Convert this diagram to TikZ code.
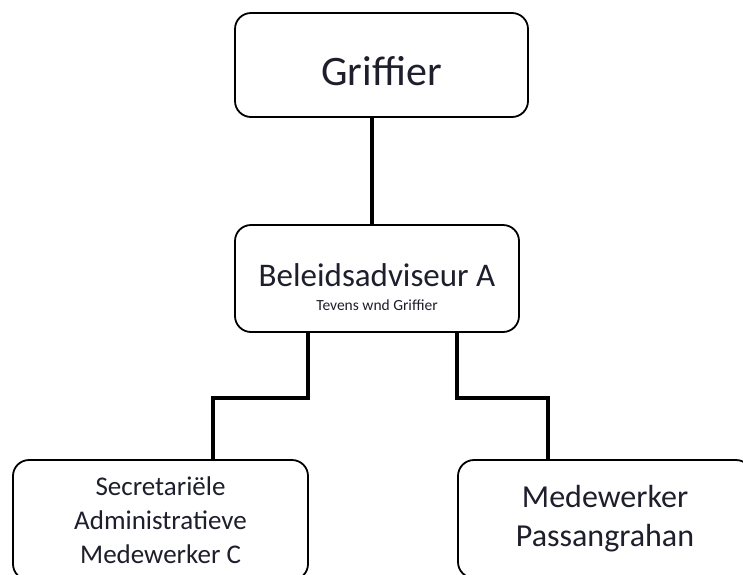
\documentclass[tikz,border=0pt]{standalone}
\usepackage{fontspec}
\setmainfont{Carlito}
\definecolor{inkblue}{HTML}{1E1E2C}
\tikzset{
    box/.style={draw=black, line width=1.8pt, rounded corners=16pt, fill=white,
        text=inkblue, align=center, inner sep=0pt},
    conn/.style={draw=black, line width=3.5pt}
}
\begin{document}
\begin{tikzpicture}[x=1pt,y=-1pt]
    \useasboundingbox (0,0) rectangle (743,574);
    \clip (0,0) rectangle (743,574);
    \node[box, minimum width=293pt, minimum height=104pt, text height=40pt, text depth=0pt,
        font=\fontsize{42}{44}\selectfont] (griffier) at (381.5,65) {Griffier};
    \node[box, minimum width=284pt, minimum height=107pt,
        font=\fontsize{33}{33}\selectfont] (beleid) at (377,278.5)
        {\rule{0pt}{41pt}Beleidsadviseur A\\[-9pt]
         {\fontsize{15.5}{17}\selectfont Tevens wnd Griffier}};
    \node[box, minimum width=295pt, minimum height=120pt,
        font=\fontsize{27}{34}\selectfont] (secr) at (160.5,520)
        {Secretariële\\Administratieve\\Medewerker C};
    \node[box, minimum width=294pt, minimum height=118pt,
        font=\fontsize{32}{39}\selectfont] (medew) at (605,519)
        {Medewerker\\Passangrahan};
    \draw[conn] ([xshift=-5pt]beleid.north) -- ([xshift=-5pt]beleid.north |- griffier.south);
    \draw[conn] ([xshift=-69pt]beleid.south) -- ++(0,65) -| ([xshift=52.5pt]secr.north);
    \draw[conn] ([xshift=80pt]beleid.south) -- ++(0,65) -| ([xshift=-57pt]medew.north);
\end{tikzpicture}
\end{document}
